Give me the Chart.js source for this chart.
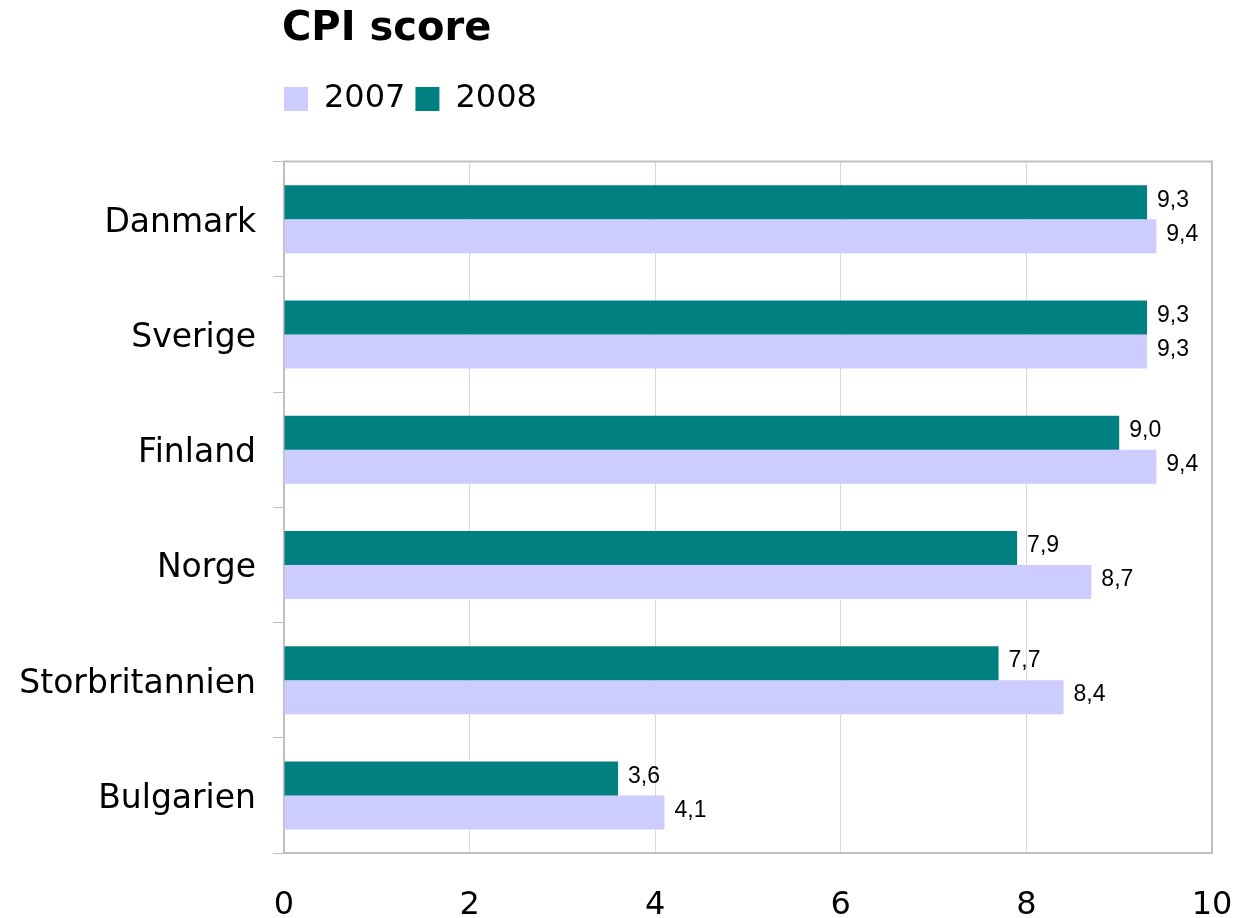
<!DOCTYPE html>
<html><head><meta charset="utf-8">
<script src="https://cdn.jsdelivr.net/npm/chart.js@4.4.1/dist/chart.umd.min.js"></script>
<style>html,body{margin:0;padding:0;background:#fff}#wrap{width:1237px;height:918px}</style>
</head><body><div id="wrap"><canvas id="c" width="1237" height="918"></canvas></div>
<script>
const categories = ['Danmark', 'Sverige', 'Finland', 'Norge', 'Storbritannien', 'Bulgarien'];
const values2008 = [9.3, 9.3, 9.0, 7.9, 7.7, 3.6];
const values2007 = [9.4, 9.3, 9.4, 8.7, 8.4, 4.1];
const xTickValues = [0, 2, 4, 6, 8, 10];
const chartTitle = 'CPI score';

const FONT = "'DejaVu Sans', Verdana, sans-serif";
Chart.defaults.font.family = FONT;
Chart.defaults.color = '#000';

const layoutTweak = {
  id: 'layoutTweak',
  afterLayout(chart) {
    const ca = chart.chartArea;
    if (chart.titleBlock) chart.titleBlock.left = ca.left - 2;
    if (chart.legend) chart.legend.left = ca.left - chart.legend.options.labels.padding;
  },
  afterDatasetsDraw(chart) {
    const ctx = chart.ctx, ca = chart.chartArea;
    ctx.save();
    ctx.strokeStyle = '#c0c0c0';
    ctx.lineWidth = 2;
    ctx.beginPath();
    ctx.moveTo(ca.left - 1, ca.top);
    ctx.lineTo(ca.right + 1, ca.top);
    ctx.stroke();
    ctx.font = "23px 'Liberation Sans', Arial, sans-serif";
    ctx.fillStyle = '#000';
    ctx.textBaseline = 'middle';
    ctx.textAlign = 'left';
    chart.data.datasets.forEach((ds, i) => {
      const meta = chart.getDatasetMeta(i);
      meta.data.forEach((bar, j) => {
        ctx.fillText(ds.data[j].toFixed(1).replace('.', ','), bar.x + 10, bar.y - 2);
      });
    });
    ctx.restore();
  }
};

new Chart(document.getElementById('c'), {
  type: 'bar',
  data: {
    labels: categories,
    datasets: [
      { label: '2008', data: values2008, backgroundColor: '#008080', borderWidth: 0 },
      { label: '2007', data: values2007, backgroundColor: '#CCCCFF', borderWidth: 0 }
    ]
  },
  options: {
    indexAxis: 'y',
    responsive: false,
    animation: false,
    categoryPercentage: 0.59,
    barPercentage: 1.0,
    layout: { padding: { left: 0, right: 25, top: 0, bottom: 0 } },
    plugins: {
      title: {
        display: true, text: chartTitle, align: 'start', color: '#000',
        font: { size: 40, weight: 'bold', family: FONT },
        padding: { top: 6, bottom: 19 }
      },
      subtitle: {
        display: true, text: '', weight: 500, padding: 0,
        font: { size: 36.6, lineHeight: 1 }
      },
      legend: {
        display: true, position: 'top', align: 'start',
        labels: {
          boxWidth: 24, boxHeight: 24, padding: 10, color: '#000',
          font: { size: 32, family: FONT },
          sort: (a, b) => b.datasetIndex - a.datasetIndex
        }
      },
      tooltip: { enabled: false }
    },
    scales: {
      x: {
        min: 0, max: 10,
        afterBuildTicks: s => { s.ticks = xTickValues.map(v => ({ value: v })); },
        afterFit: s => { s.height = 65; s.paddingRight = 0; s.paddingLeft = 0; },
        ticks: { font: { size: 32 }, color: '#000', padding: 33 },
        grid: {
          drawTicks: false,
          color: c => (c.tick && c.tick.value === 10) ? '#c0c0c0' : '#d9d9d9',
          lineWidth: c => (c.tick && c.tick.value === 10) ? 2 : 1
        },
        border: { color: '#c0c0c0', width: 2 }
      },
      y: {
        afterFit: s => { s.width = 284; },
        ticks: { font: { size: 33 }, color: '#000', padding: 17, labelOffset: 4 },
        grid: { drawOnChartArea: false, drawTicks: true, tickLength: 11, color: '#c0c0c0', offset: true },
        border: { color: '#c0c0c0', width: 2 }
      }
    }
  },
  plugins: [layoutTweak]
});
</script></body></html>
